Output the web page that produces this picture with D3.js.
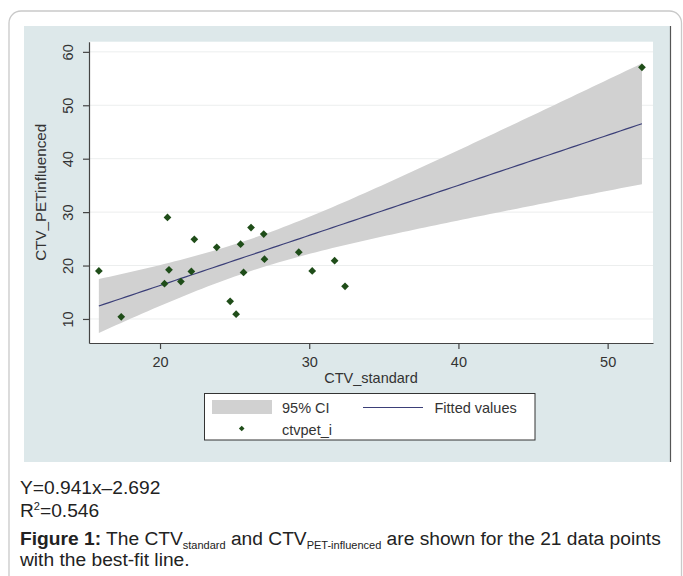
<!DOCTYPE html>
<html>
<head>
<meta charset="utf-8">
<script src="https://cdn.jsdelivr.net/npm/d3@7"></script>
<style>
  body { margin: 0; background: #fff; }
  svg text { font-family: "Liberation Sans", Arial, sans-serif; }
</style>
</head>
<body>
<div id="vis"></div>
<script>
// data
const ctvStandard = [15.9, 17.4, 20.3, 20.5, 20.6, 21.4, 22.1, 22.3, 23.8, 24.7, 25.1,
                     25.4, 25.6, 26.1, 27.0, 26.95, 29.3, 30.2, 31.7, 32.4, 52.3]
const ctvPet = [19.0, 10.4, 16.6, 29.0, 19.2, 17.0, 18.9, 24.9, 23.4, 13.3, 10.9,
                24.0, 18.7, 27.1, 21.2, 25.9, 22.5, 19.0, 20.9, 16.1, 57.1]
const xTicks = [20, 30, 40, 50]
const yTicks = [10, 20, 30, 40, 50, 60]
const legendLabels = ["95% CI", "Fitted values", "ctvpet_i"]
const tCrit = 2.093   // t(0.975, 19)

const W = 683, H = 576
const plot = {left: 89, right: 653, top: 41.7, bottom: 343}

const svg = d3.select("#vis").append("svg")
    .attr("width", W).attr("height", H)

// card + stata graph region
svg.append("rect").attr("x", 9).attr("y", 11).attr("width", 672.5).attr("height", 600)
    .attr("rx", 12).style("fill", "#fff").style("stroke", "#c9c9c9").style("stroke-width", 1.3)
svg.append("rect").attr("x", 24).attr("y", 26).attr("width", 646).attr("height", 436)
    .style("fill", "#dde8ea")
svg.append("line").attr("x1", 670.5).attr("x2", 670.5).attr("y1", 26).attr("y2", 462)
    .style("stroke", "#555").style("stroke-width", 1.2)
svg.append("rect").attr("x", plot.left).attr("y", plot.top)
    .attr("width", plot.right - plot.left).attr("height", plot.bottom - plot.top)
    .style("fill", "#fff")

const x = d3.scaleLinear().domain([15.24, 53.04]).range([plot.left, plot.right])
const y = d3.scaleLinear().domain([5.5, 61.9]).range([plot.bottom, plot.top])

// grid
svg.selectAll(".grid").data(yTicks).enter().append("line")
    .attr("x1", plot.left).attr("x2", plot.right)
    .attr("y1", d => y(d)).attr("y2", d => y(d))
    .style("stroke", "#eceeee").style("stroke-width", 1)

// regression + confidence band of the mean
const n = ctvStandard.length
const mx = d3.mean(ctvStandard), my = d3.mean(ctvPet)
let sxx = 0, sxy = 0
ctvStandard.forEach((v, i) => { sxx += (v - mx) ** 2; sxy += (v - mx) * (ctvPet[i] - my) })
const slope = sxy / sxx, icpt = my - slope * mx
let sse = 0
ctvStandard.forEach((v, i) => { sse += (ctvPet[i] - (icpt + slope * v)) ** 2 })
const s = Math.sqrt(sse / (n - 2))
const xLo = d3.min(ctvStandard), xHi = d3.max(ctvStandard)
const grid = d3.range(0, 101).map(k => xLo + (xHi - xLo) * k / 100)
const band = grid.map(v => {
  const fit = icpt + slope * v
  const half = tCrit * s * Math.sqrt(1 / n + (v - mx) ** 2 / sxx)
  return {x: v, fit: fit, lo: fit - half, hi: fit + half}
})

svg.append("path").datum(band)
    .attr("d", d3.area().x(d => x(d.x)).y0(d => y(d.lo)).y1(d => y(d.hi)))
    .style("fill", "#d1d1d1")
svg.append("path").datum(band)
    .attr("d", d3.line().x(d => x(d.x)).y(d => y(d.fit)))
    .style("fill", "none").style("stroke", "#3b3f78").style("stroke-width", 1.2)

// points
const diamond = d3.symbol().type(d3.symbolSquare).size(30)
svg.selectAll(".pt").data(ctvStandard).enter().append("path")
    .attr("d", diamond)
    .attr("transform", (d, i) => `translate(${x(d)},${y(ctvPet[i])}) rotate(45)`)
    .style("fill", "#1f4d19")

// axes
const axisColor = "#444"
const gx = svg.append("g").attr("transform", `translate(0,${plot.bottom})`)
    .call(d3.axisBottom(x).tickValues(xTicks).tickSize(6).tickSizeOuter(0))
gx.selectAll("text").attr("y", 14).style("font-size", "14.5px").style("fill", "#333")
const gy = svg.append("g").attr("transform", `translate(${plot.left},0)`)
    .call(d3.axisLeft(y).tickValues(yTicks).tickSize(6).tickSizeOuter(0))
gy.selectAll("text").attr("transform", "rotate(-90)").attr("x", 0).attr("y", -21)
    .attr("dy", "0.35em").style("text-anchor", "middle")
    .style("font-size", "14.5px").style("fill", "#333")
svg.selectAll(".domain, .tick line").style("stroke", axisColor).style("stroke-width", 1.2)

svg.append("text").attr("x", (plot.left + plot.right) / 2).attr("y", 383)
    .attr("text-anchor", "middle").style("font-size", "14.5px").style("fill", "#333")
    .text("CTV_standard")
svg.append("text").attr("transform", `translate(46,${(plot.top + plot.bottom) / 2}) rotate(-90)`)
    .attr("text-anchor", "middle").style("font-size", "15.2px").style("fill", "#333")
    .text("CTV_PETinfluenced")

// legend
const lg = svg.append("g")
lg.append("rect").attr("x", 204.5).attr("y", 393.5).attr("width", 330.5).attr("height", 46.5)
    .style("fill", "#fff").style("stroke", "#333").style("stroke-width", 1)
lg.append("rect").attr("x", 212).attr("y", 400).attr("width", 60).attr("height", 14)
    .style("fill", "#d1d1d1")
lg.append("line").attr("x1", 363).attr("x2", 423).attr("y1", 407.5).attr("y2", 407.5)
    .style("stroke", "#3b3f78").style("stroke-width", 1.2)
lg.append("path").attr("d", d3.symbol().type(d3.symbolSquare).size(16))
    .attr("transform", "translate(241.7,428.5) rotate(45)").style("fill", "#1f4d19")
lg.selectAll(".lt").data(legendLabels).enter().append("text")
    .attr("x", (d, i) => i === 1 ? 434.5 : 282)
    .attr("y", (d, i) => i === 2 ? 435 : 412.5)
    .style("font-size", "14.5px").style("fill", "#333")
    .text(d => d)

// caption
const cap = svg.append("g").style("fill", "#222").style("font-size", "19.2px")
cap.append("text").attr("x", 20).attr("y", 494).text("Y=0.941x\u20132.692")
const r2 = cap.append("text").attr("x", 20).attr("y", 517)
r2.append("tspan").text("R")
r2.append("tspan").attr("dy", -7).style("font-size", "11px").text("2")
r2.append("tspan").attr("dy", 7).text("=0.546")
const f1 = cap.append("text").attr("x", 20).attr("y", 545)
f1.append("tspan").style("font-weight", "bold").text("Figure 1:")
f1.append("tspan").text(" The CTV")
f1.append("tspan").attr("dy", 4).style("font-size", "11px").text("standard")
f1.append("tspan").attr("dy", -4).text(" and CTV")
f1.append("tspan").attr("dy", 4).style("font-size", "11px").text("PET-influenced")
f1.append("tspan").attr("dy", -4).text(" are shown for the 21 data points")
cap.append("text").attr("x", 20).attr("y", 566).text("with the best-fit line.")
</script>
</body>
</html>
